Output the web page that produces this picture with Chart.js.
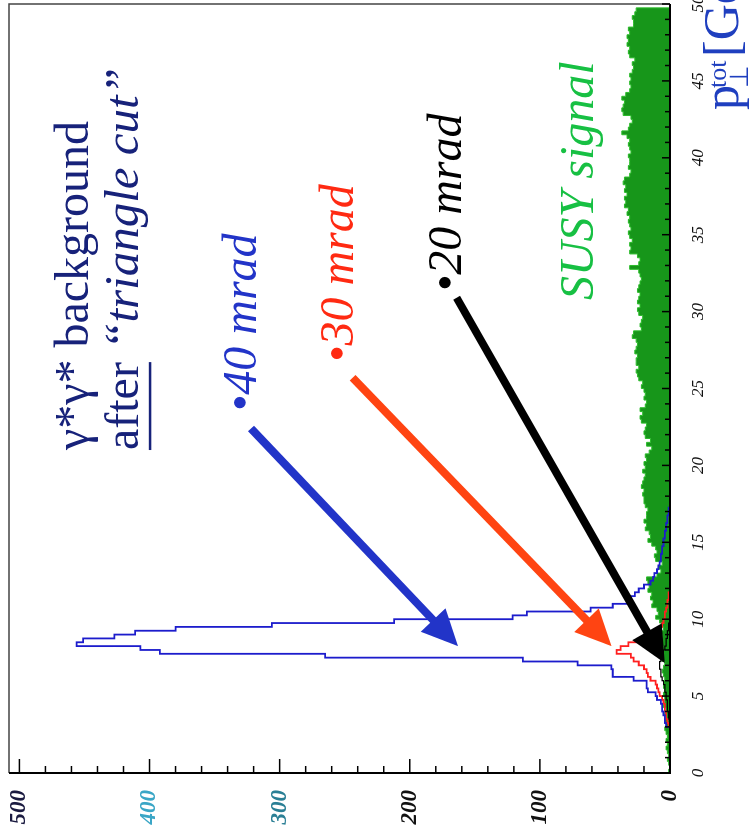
<!DOCTYPE html>
<html><head><meta charset="utf-8">
<script src="https://cdn.jsdelivr.net/npm/chart.js@4.4.1/dist/chart.umd.min.js"></script>
<style>
html,body{margin:0;padding:0;background:#fff;overflow:hidden;width:750px;height:834px;}
#wrap{position:absolute;left:0;top:0;width:834px;height:750px;transform-origin:0 0;transform:translate(0,834px) rotate(-90deg);}
</style></head><body>
<div id="wrap"><canvas id="c" width="834" height="750"></canvas></div>
<script>
// ---- data (p_T^tot in GeV, bins of 0.25 GeV) ----
const BIN = 0.25;
const xTickValues = [0,5,10,15,20,25,30,35,40,45,50];
const yTickValues = [0,100,200,300,400,500];
const yTickColors = ['#111','#111','#111','#2a7f95','#3aa6c6','#1a1a40'];

const susyStart = 0;
const susyCounts = [
  0,1,0,1, 2,1,2,3, 2,3,2,3, 4,3,4,3, 4,3,5,4,
  4,5,4,5, 5,4,5,6, 5,4,6,5, 6,5,6,7, 6,7,5,6,
  8,11,9,10, 14,13,15,14, 17,16,17,18, 10,7,9,6, 11,12,10,11,
  14,17,15,16, 19,18,20,18, 18,17,19,20, 20,21,20,22, 21,20,19,21,
  19,20,18,19, 16,14,18,15, 19,20,19,18, 22,23,21,23, 19,18,20,19,
  20,22,21,24, 25,26,24,26, 26,25,27,26, 25,26,29,28, 22,23,22,21,
  24,25,23,25, 24,23,25,24, 23,22,23,24, 31,24,23,25, 31,30,31,29,
  31,32,30,31, 32,31,33,32, 35,34,35,33, 35,34,36,35, 31,30,32,31,
  31,32,30,31, 32,31,33,37, 32,31,29,30, 36,37,36,35, 37,34,31,30,
  31,30,31,29, 28,29,27,31, 32,31,33,32, 33,31,32,28, 28,29,27,26
];
const mrad40Start = 3.0;
const mrad40Counts = [1,3,4,4, 5,6,6,7, 10,11,17,18, 18,28,44,44, 45,71,113,265,
  392,407,456,451, 427,411,380,306, 212,121,110,61, 44,32,30,27,
  24,20,15,13, 12,10,9,8, 7,7,6,6, 5,5,4,4, 3,3,2,2, 1,1,0];
const mrad30Start = 3.0;
const mrad30Counts = [1,1,2,3, 3,4,4,5, 6,8,9,10, 11,15,17,18, 20,24,28,30,
  41,38,32,19, 12,9,7,6, 5,4,4,3, 2,2,1,1, 0];
const mrad20Start = 3.5;
const mrad20Counts = [1,1,1,2, 2,2,3,3, 4,4,5,6, 7,7,8,8, 7,6,5,4, 3,3,2,2, 1,1,0];

// ---- annotations (in data units: [p_T, count]) ----
const arrows = [
  {from:[22.4,322], to:[8.25,163], color:'#2234c8', width:8},
  {from:[25.7,244], to:[8.25,45], color:'#ff4412', width:8},
  {from:[30.9,164], to:[7.15,4], color:'#000000', width:8}
];
const textLabels = [
  {runs:[{t:'γ*γ* background', style:'normal', size:48}], pT:21.0, count:447, color:'#17227a'},
  {runs:[{t:'after', style:'normal', size:48, underline:true},{t:' “triangle cut”', style:'italic', size:49}], pT:21.0, count:409, color:'#17227a'},
  {runs:[{t:'•40 mrad', style:'italic', size:48}], pT:23.5, count:318, color:'#2234c8'},
  {runs:[{t:'•30 mrad', style:'italic', size:48}], pT:26.7, count:244, color:'#ff2a12'},
  {runs:[{t:'•20 mrad', style:'italic', size:48}], pT:31.3, count:161, color:'#000000'},
  {runs:[{t:'SUSY signal', style:'italic', size:48}], pT:30.75, count:59, color:'#17c043'}
];

function histPoints(start, counts){
  const pts = [{x:start, y:0}];
  counts.forEach((v,i)=>pts.push({x:start + i*BIN, y:v}));
  pts.push({x:start + counts.length*BIN, y:0});
  return pts;
}

function drawArrow(ctx,x0,y0,x1,y1,color,lw,hl,hw){
  const dx=x1-x0, dy=y1-y0, L=Math.hypot(dx,dy), ux=dx/L, uy=dy/L;
  const bx=x1-ux*hl, by=y1-uy*hl;
  ctx.strokeStyle=color; ctx.lineWidth=lw; ctx.lineCap='butt';
  ctx.beginPath(); ctx.moveTo(x0,y0); ctx.lineTo(bx+ux*3,by+uy*3); ctx.stroke();
  ctx.fillStyle=color;
  ctx.beginPath(); ctx.moveTo(x1,y1);
  ctx.lineTo(bx-uy*hw, by+ux*hw); ctx.lineTo(bx+uy*hw, by-ux*hw);
  ctx.closePath(); ctx.fill();
}

const overlay = {
  id:'overlay',
  afterDatasetsDraw(chart){
    const {ctx, chartArea:a, scales:{x,y}} = chart;
    ctx.save();
    // frame
    ctx.strokeStyle='#444'; ctx.lineWidth=1.5;
    ctx.beginPath(); ctx.moveTo(a.left,a.top); ctx.lineTo(a.right,a.top); ctx.lineTo(a.right,a.bottom); ctx.stroke();
    ctx.strokeStyle='#000'; ctx.lineWidth=2;
    ctx.beginPath(); ctx.moveTo(a.left,a.top); ctx.lineTo(a.left,a.bottom); ctx.lineTo(a.right,a.bottom); ctx.stroke();
    // inward ticks
    ctx.lineWidth=1.5; ctx.strokeStyle='#000';
    for(let v=0; v<=50; v+=1){
      const px=x.getPixelForValue(v), len=(v%5===0)?8:5;
      ctx.beginPath(); ctx.moveTo(px,a.bottom); ctx.lineTo(px,a.bottom-len); ctx.stroke();
    }
    for(let v=0; v<=500; v+=20){
      const py=y.getPixelForValue(v), len=(v%100===0)?14:7;
      ctx.beginPath(); ctx.moveTo(a.left,py); ctx.lineTo(a.left+len,py); ctx.stroke();
    }
    // arrows
    arrows.forEach(ar=>drawArrow(ctx, x.getPixelForValue(ar.from[0]), y.getPixelForValue(ar.from[1]),
      x.getPixelForValue(ar.to[0]), y.getPixelForValue(ar.to[1]), ar.color, ar.width, 36, 17));
    // text labels
    ctx.textAlign='left'; ctx.textBaseline='alphabetic';
    textLabels.forEach(l=>{
      let px=x.getPixelForValue(l.pT); const py=y.getPixelForValue(l.count);
      ctx.fillStyle=l.color;
      l.runs.forEach(r=>{
        ctx.font=`${r.style} ${r.size}px "Liberation Serif"`;
        ctx.fillText(r.t, px, py);
        const w=ctx.measureText(r.t).width;
        if(r.underline) ctx.fillRect(px, py+11, w, 2.5);
        px+=w;
      });
    });
    // axis title p_perp^tot [GeV]
    const tx=a.right-106, ty=a.bottom+68;
    ctx.fillStyle='#1f3fbf';
    ctx.font='50px "Liberation Serif"'; ctx.fillText('p', tx, ty);
    const pw=ctx.measureText('p').width;
    ctx.font='26px "Liberation Serif"'; ctx.fillText('⊥', tx+pw-3, ty+10);
    ctx.font='26px "Liberation Serif"'; ctx.fillText('tot', tx+pw-3, ty-12);
    ctx.font='50px "Liberation Serif"'; ctx.fillText('[GeV]', tx+53, ty);
    ctx.restore();
  }
};

new Chart(document.getElementById('c'), {
  type:'line',
  data:{datasets:[
    {label:'40 mrad', data:histPoints(mrad40Start,mrad40Counts), stepped:'after', borderColor:'#1c1ccc', borderWidth:1.8, pointRadius:0, fill:false, order:1},
    {label:'30 mrad', data:histPoints(mrad30Start,mrad30Counts), stepped:'after', borderColor:'#ff2020', borderWidth:1.8, pointRadius:0, fill:false, order:2},
    {label:'20 mrad', data:histPoints(mrad20Start,mrad20Counts), stepped:'after', borderColor:'#000000', borderWidth:1.2, pointRadius:0, fill:false, order:3},
    {label:'SUSY signal', data:histPoints(susyStart,susyCounts), stepped:'after', borderColor:'#2cbc2c', backgroundColor:'#17961a', borderWidth:1, pointRadius:0, fill:'origin', order:4}
  ]},
  options:{
    responsive:false, animation:false, devicePixelRatio:1,
    layout:{padding:{top:9,right:4,left:0,bottom:0}},
    plugins:{legend:{display:false}, tooltip:{enabled:false}},
    scales:{
      x:{type:'linear', min:0, max:50,
        border:{display:false}, grid:{display:false},
        ticks:{padding:10, maxRotation:0, autoSkip:false, color:'#111',
          font:{family:'Liberation Serif', style:'italic', size:17}},
        afterBuildTicks(s){ s.ticks = xTickValues.map(v=>({value:v})); },
        afterFit(s){ s.height=80; s.paddingLeft=0; s.paddingRight=0; }
      },
      y:{type:'linear', min:0, max:508,
        border:{display:false}, grid:{display:false},
        ticks:{padding:9, color:(c)=>yTickColors[yTickValues.indexOf(c.tick.value)] || '#111',
          font:{family:'Liberation Serif', style:'italic', weight:'bold', size:23}},
        afterBuildTicks(s){ s.ticks = yTickValues.map(v=>({value:v})); },
        afterFit(s){ s.width=61; s.paddingTop=0; s.paddingBottom=0; }
      }
    }
  },
  plugins:[overlay]
});
</script>
</body></html>
